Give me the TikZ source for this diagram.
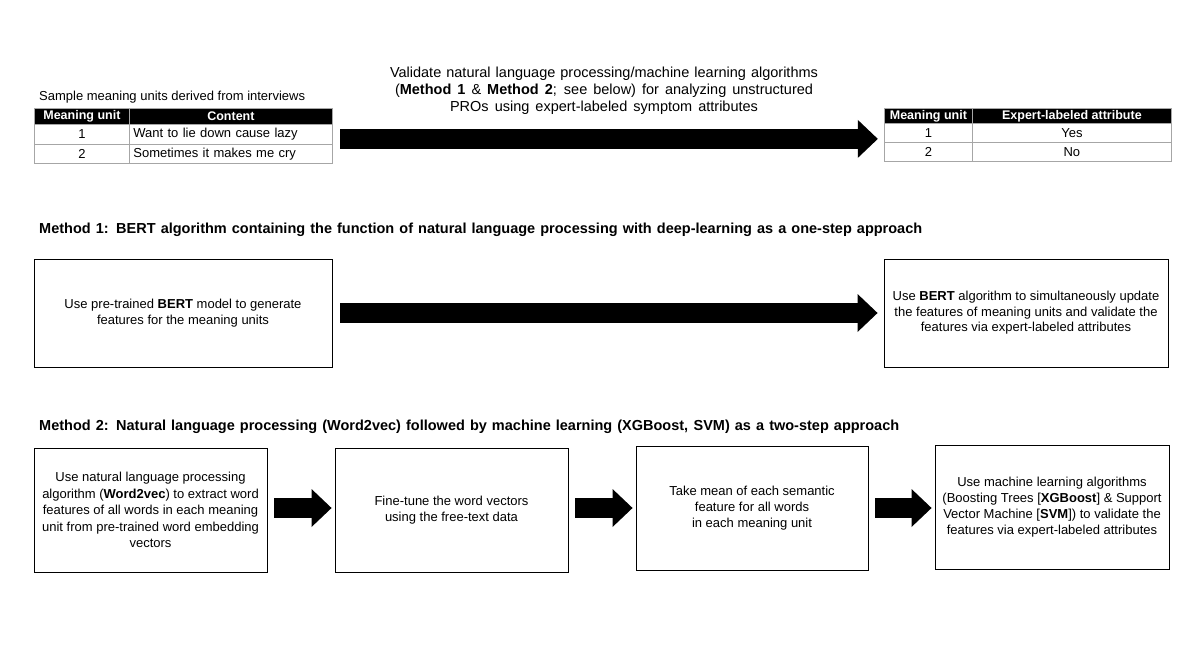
\documentclass[tikz,border=0pt]{standalone}
\usepackage{fontspec}
\setmainfont{Liberation Sans}
\usetikzlibrary{arrows.meta,fit}
\begin{document}
\begin{tikzpicture}[x=1pt,y=-1pt,
  txt/.style={font=\fontsize{13}{16}\selectfont, inner sep=0pt},
  head/.style={font=\fontsize{14.5}{15}\selectfont\bfseries, inner sep=0pt, anchor=west},
  box/.style={draw=black, line width=0.9pt, align=center, font=\fontsize{13}{15.5}\selectfont, inner sep=0pt},
  cell/.style={draw=gray!70, line width=0.8pt, font=\fontsize{13}{14}\selectfont, inner sep=0pt, anchor=north west},
  hcell/.style={cell, fill=black, text=white, font=\fontsize{12.5}{13}\selectfont\bfseries},
  bigarrow/.style={line width=20pt, -{Triangle[length=20pt,width=38pt,line width=0pt]}}
]
\useasboundingbox (0,0) rectangle (1200,666);

% top title text
\node[txt, align=center, font=\fontsize{14.5}{17}\selectfont] (val) at (604,91) {\makebox[428pt][s]{Validate natural language processing/machine learning algorithms}\\\makebox[418pt][s]{(\textbf{Method 1} \& \textbf{Method 2}; see below) for analyzing unstructured}\\\makebox[308pt][s]{PROs using expert-labeled symptom attributes}};

% left table
\node[txt, anchor=west] (samp) at (39,97) {Sample meaning units derived from interviews};
\node[hcell, minimum width=95pt, minimum height=16pt] (lth1) at (34,108) {Meaning unit};
\node[hcell, minimum width=203pt, minimum height=16pt] (lth2) at (129,108) {Content};
\node[cell, minimum width=95pt, minimum height=20pt] (lt11) at (34,124) {1};
\node[cell, minimum width=203pt, minimum height=20pt, text width=195pt, inner xsep=4pt, align=left] (lt12) at (129,124) {Want to lie down cause lazy};
\node[cell, minimum width=95pt, minimum height=19pt] (lt21) at (34,144) {2};
\node[cell, minimum width=203pt, minimum height=19pt, text width=195pt, inner xsep=4pt, align=left] (lt22) at (129,144) {Sometimes it makes me cry};
\node[fit=(lth1)(lt22), inner sep=0pt] (lt) {};

% right table
\node[hcell, minimum width=88pt, minimum height=15pt] (rth1) at (884,108) {Meaning unit};
\node[hcell, minimum width=199pt, minimum height=15pt] (rth2) at (972,108) {Expert-labeled attribute};
\node[cell, minimum width=88pt, minimum height=19.5pt] (rt11) at (884,123) {1};
\node[cell, minimum width=199pt, minimum height=19.5pt] (rt12) at (972,123) {Yes};
\node[cell, minimum width=88pt, minimum height=19pt] (rt21) at (884,142.5) {2};
\node[cell, minimum width=199pt, minimum height=19pt] (rt22) at (972,142.5) {No};
\node[fit=(rth1)(rt22), inner sep=0pt] (rt) {};

\coordinate (a0) at ([yshift=-3pt]lt.east);
\draw[bigarrow, shorten <=7pt, shorten >=6pt] (a0) -- (a0 -| rt.west);

% Method 1
\node[head] (m1) at (39,230) {\makebox[883pt][s]{Method 1: BERT algorithm containing the function of natural language processing with deep-learning as a one-step approach}};
\node[box, minimum width=298pt, minimum height=108pt] (b1l) at (183,313) {Use pre-trained \textbf{BERT} model to generate\\features for the meaning units};
\node[box, minimum width=284pt, minimum height=108pt] (b1r) at (1026,313) {Use \textbf{BERT} algorithm to simultaneously update\\the features of meaning units and validate the\\features via expert-labeled attributes};
\draw[bigarrow, shorten <=8pt, shorten >=6pt] (b1l) -- (b1r);

% Method 2
\node[head] (m2) at (39,427) {\makebox[860pt][s]{Method 2: Natural language processing (Word2vec) followed by machine learning (XGBoost, SVM) as a two-step approach}};
\node[box, minimum width=233pt, minimum height=124pt, font=\fontsize{13}{16.5}\selectfont] (b2a) at (150.5,510) {Use natural language processing\\algorithm (\textbf{Word2vec}) to extract word\\features of all words in each meaning\\unit from pre-trained word embedding\\vectors};
\node[box, minimum width=233pt, minimum height=124pt, font=\fontsize{13}{16.5}\selectfont] (b2b) at (451.5,510) {Fine-tune the word vectors\\using the free-text data};
\node[box, minimum width=232pt, minimum height=124pt, font=\fontsize{13}{16}\selectfont] (b2c) at (752,508) {Take mean of each semantic\\feature for all words\\in each meaning unit};
\node[box, minimum width=234pt, minimum height=124pt, font=\fontsize{13}{16}\selectfont] (b2d) at (1052,507) {Use machine learning algorithms\\(Boosting Trees [\textbf{XGBoost}] \& Support\\Vector Machine [\textbf{SVM}]) to validate the\\features via expert-labeled attributes};
\draw[bigarrow, shorten <=7pt, shorten >=3pt] (b2a.east |- b2c.center) -- (b2b.west |- b2c.center);
\draw[bigarrow, shorten <=7pt, shorten >=3pt] (b2b.east |- b2c.center) -- (b2c);
\draw[bigarrow, shorten <=7pt, shorten >=3pt] (b2c) -- (b2d.west |- b2c.center);
\end{tikzpicture}
\end{document}
